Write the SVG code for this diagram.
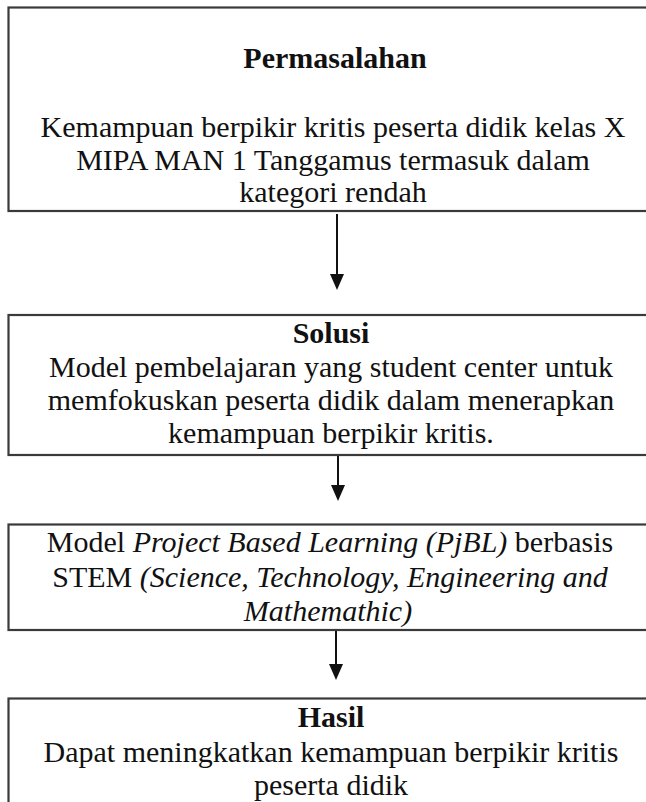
<svg xmlns="http://www.w3.org/2000/svg" width="646" height="802" viewBox="0 0 646 802">
  <style>
    .box { fill: #ffffff; stroke: #3a3a3a; stroke-width: 2.2; }
    text { font-family: 'Liberation Serif', 'Times New Roman', Times, 'DejaVu Serif', serif; font-size: 30px; fill: #111111; text-anchor: middle; }
    .b { font-weight: bold; }
    .i { font-style: italic; }
    .line { stroke: #111111; stroke-width: 2; fill: none; }
    .head { fill: #111111; }
  </style>
  <rect width="646" height="802" fill="#ffffff"/>

  <!-- Problem statement -->
  <g id="permasalahan">
    <rect class="box" x="8.5" y="7.5" width="654" height="203.5"/>
    <text class="b" x="335" y="68" font-family="Liberation Serif, serif">Permasalahan</text>
    <text x="333" y="137" font-family="Liberation Serif, serif">Kemampuan berpikir kritis peserta didik kelas X</text>
    <text x="333" y="170" font-family="Liberation Serif, serif">MIPA MAN 1 Tanggamus termasuk dalam</text>
    <text x="333" y="202" font-family="Liberation Serif, serif">kategori rendah</text>
  </g>

  <!-- Proposed solution -->
  <g id="solusi">
    <rect class="box" x="8.5" y="315" width="654" height="140"/>
    <text class="b" x="331" y="343" font-family="Liberation Serif, serif">Solusi</text>
    <text x="331" y="377" font-family="Liberation Serif, serif">Model pembelajaran yang student center untuk</text>
    <text x="331" y="410" font-family="Liberation Serif, serif">memfokuskan peserta didik dalam menerapkan</text>
    <text x="331" y="443" font-family="Liberation Serif, serif">kemampuan berpikir kritis.</text>
  </g>

  <!-- Learning model -->
  <g id="model">
    <rect class="box" x="8.5" y="524.5" width="654" height="105.5"/>
    <text x="330" y="552" font-family="Liberation Serif, serif">Model <tspan class="i">Project Based Learning (PjBL)</tspan> berbasis</text>
    <text x="330" y="587" font-family="Liberation Serif, serif">STEM <tspan class="i">(Science, Technology, Engineering and</tspan></text>
    <text class="i" x="328" y="621" font-family="Liberation Serif, serif">Mathemathic)</text>
  </g>

  <!-- Outcome -->
  <g id="hasil">
    <rect class="box" x="8.5" y="698.5" width="654" height="130"/>
    <text class="b" x="331" y="727" font-family="Liberation Serif, serif">Hasil</text>
    <text x="331" y="762" font-family="Liberation Serif, serif">Dapat meningkatkan kemampuan berpikir kritis</text>
    <text x="331" y="795" font-family="Liberation Serif, serif">peserta didik</text>
  </g>

  <!-- Connectors: vertical shafts with filled triangular heads -->
  <g id="connectors">
    <path class="line" d="M337,214 V275"/>
    <path class="head" d="M330,274 H344 L337,290 Z"/>
    <path class="line" d="M338,456 V486"/>
    <path class="head" d="M331,485 H345 L338,501 Z"/>
    <path class="line" d="M336,631 V665"/>
    <path class="head" d="M329,664 H343 L336,680 Z"/>
  </g>
</svg>
